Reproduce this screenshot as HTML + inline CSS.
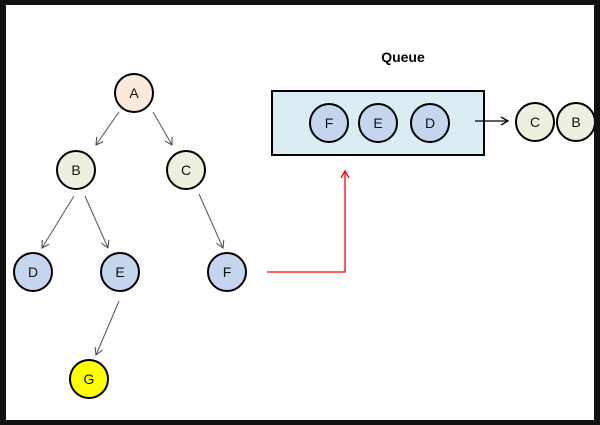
<!DOCTYPE html>
<html><head><style>
html,body{margin:0;padding:0;background:#000;}
svg{display:block;}
text{font-family:"Liberation Sans",sans-serif;font-size:14px;}
</style></head><body>
<svg width="600" height="425" viewBox="0 0 600 425" xmlns="http://www.w3.org/2000/svg">
<defs>
<marker id="a" markerWidth="10" markerHeight="10" refX="8" refY="5" orient="auto" markerUnits="userSpaceOnUse"><path d="M1,1 L8,5 L1,9" fill="none" stroke="#444" stroke-width="1"/></marker>
<marker id="k" markerWidth="10" markerHeight="10" refX="8" refY="5" orient="auto" markerUnits="userSpaceOnUse"><path d="M1,1 L8,5 L1,9" fill="none" stroke="#000" stroke-width="1.3"/></marker>
<marker id="r" markerWidth="10" markerHeight="10" refX="8" refY="5" orient="auto" markerUnits="userSpaceOnUse"><path d="M1,1 L8,5 L1,9" fill="none" stroke="red" stroke-width="1.3"/></marker>
</defs>
<rect x="0" y="0" width="600" height="425" fill="#111"/>
<rect x="6" y="5" width="588" height="415" fill="#fff"/>
<g stroke="#555" stroke-width="1" marker-end="url(#a)">
<line x1="119" y1="112" x2="96" y2="145"/>
<line x1="153" y1="112" x2="172" y2="145"/>
<line x1="74" y1="196" x2="42" y2="248"/>
<line x1="85" y1="196" x2="108" y2="248"/>
<line x1="199" y1="194" x2="223" y2="248"/>
<line x1="119" y1="301" x2="96" y2="355"/>
</g>
<rect x="272" y="91" width="212" height="64" fill="#daedf2" stroke="#000" stroke-width="2"/>
<text x="403" y="62" text-anchor="middle" style="font-weight:bold;font-size:14px">Queue</text>
<line x1="475" y1="121" x2="508" y2="121" stroke="#000" stroke-width="1.3" marker-end="url(#k)"/>
<polyline points="267,272 345,272 345,171" fill="none" stroke="red" stroke-width="1.3" marker-end="url(#r)"/>
<g stroke="#000" stroke-width="2">
<circle cx="134" cy="93" r="19" fill="#fde9d9"/>
<circle cx="76" cy="170" r="19" fill="#ebf1de"/>
<circle cx="186" cy="170" r="19" fill="#ebf1de"/>
<circle cx="33" cy="272" r="19" fill="#c6d5ee"/>
<circle cx="120" cy="272" r="19" fill="#c6d5ee"/>
<circle cx="227" cy="272" r="19" fill="#c6d5ee"/>
<circle cx="89" cy="379" r="19" fill="#ffff00"/>
<circle cx="329" cy="123" r="19" fill="#c6d5ee"/>
<circle cx="378" cy="123" r="19" fill="#c6d5ee"/>
<circle cx="430" cy="123" r="19" fill="#c6d5ee"/>
<circle cx="535" cy="122" r="19" fill="#ebf1de"/>
<circle cx="576" cy="122" r="19" fill="#ebf1de"/>
</g>
<rect x="594" y="0" width="6" height="425" fill="#111"/>
<g text-anchor="middle" fill="#111">
<text x="134" y="98">A</text><text x="76" y="175">B</text><text x="186" y="175">C</text>
<text x="33" y="277">D</text><text x="120" y="277">E</text><text x="227" y="277">F</text>
<text x="89" y="384">G</text>
<text x="329" y="128">F</text><text x="378" y="128">E</text><text x="430" y="128">D</text>
<text x="535" y="127">C</text><text x="576" y="127">B</text>
</g>
</svg>
</body></html>
